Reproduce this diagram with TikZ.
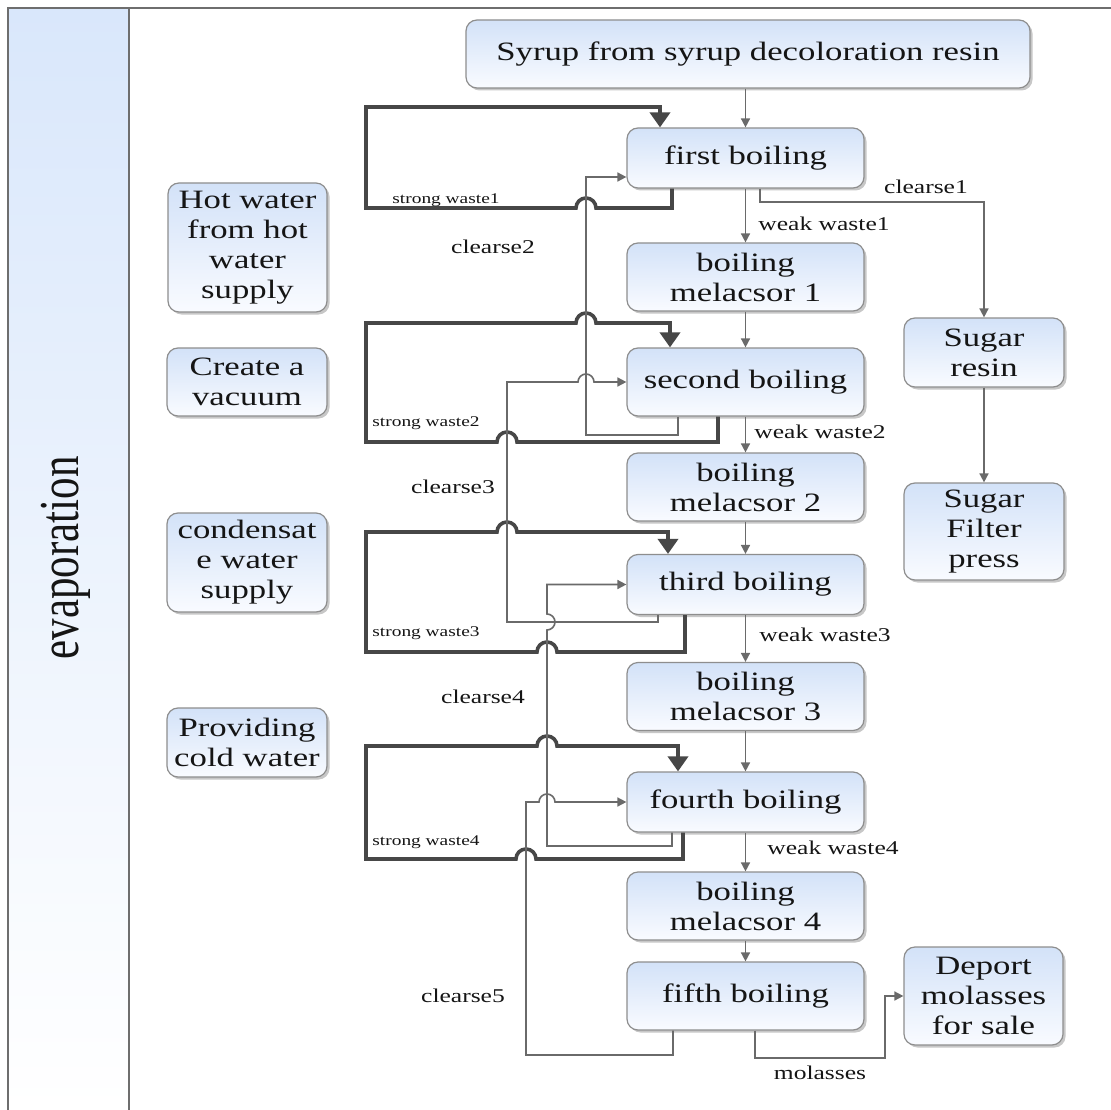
\documentclass[tikz,border=0pt]{standalone}
\usepackage{fontspec}
\setmainfont{Liberation Serif}[FakeStretch=1.31]
\newfontfamily\uprightserif{Liberation Serif}
\usetikzlibrary{arrows.meta,shadows}

\definecolor{boxtop}{HTML}{D3E2F8}
\definecolor{boxbot}{HTML}{F9FBFF}
\definecolor{boxline}{HTML}{8E8E8E}
\definecolor{lanetop}{HTML}{D9E7FB}
\definecolor{laneline}{HTML}{6E6E6E}
\definecolor{flowcol}{HTML}{6A6A6A}
\definecolor{wastecol}{HTML}{474747}
\definecolor{ink}{HTML}{151515}

\newcommand\procfont{\fontsize{26.5}{30}\selectfont}
\newcommand\labfont{\fontsize{19.5}{22}\selectfont}
\newcommand\wastefont{\fontsize{14.8}{17}\selectfont}

\begin{document}
\begin{tikzpicture}[x=1pt,y=1pt,
  proc/.style={draw=boxline, line width=1.2pt, rounded corners=11pt,
    top color=boxtop, bottom color=boxbot,
    drop shadow={shadow xshift=2.5pt, shadow yshift=-2.5pt, fill=black!40, opacity=0.55},
    align=center, inner sep=0pt, text=ink, font=\procfont, minimum width=237pt},
  flowline/.style={draw=flowcol, line width=1.6pt, -{Triangle[length=9pt,width=9pt]}},
  wasteline/.style={draw=wastecol, line width=3.6pt, line join=miter, -{Triangle[length=15pt,width=20pt]}},
  lab/.style={font=\labfont, text=ink, inner sep=0pt},
  wlab/.style={font=\wastefont, text=ink, inner sep=0pt},
]
\useasboundingbox (0,0) rectangle (1111,-1110);
\fill[white] (0,0) rectangle (1111,-1110);

% swimlane
\shade[top color=lanetop, bottom color=white] (8,-8) rectangle (129,-1110);
\draw[laneline, line width=2pt] (8,-1110) -- (8,-8) -- (1111,-8);
\draw[laneline, line width=2pt] (129,-8) -- (129,-1110);
\node[rotate=90, anchor=base, text=ink, inner sep=0pt] (lane) at (78,-558)
  {\scalebox{1}[1.31]{\uprightserif\fontsize{43}{50}\selectfont evaporation}};

% process boxes
\node[proc, minimum width=564pt, minimum height=68pt] (syrup) at (748,-54) {Syrup from syrup decoloration resin};
\node[proc, minimum height=60pt] (b1) at (745.5,-158) {first boiling};
\node[proc, minimum height=68pt] (m1) at (745.5,-277) {boiling\\melacsor 1};
\node[proc, minimum height=68pt] (b2) at (745.5,-382) {second boiling};
\node[proc, minimum height=68pt] (m2) at (745.5,-487) {boiling\\melacsor 2};
\node[proc, minimum height=60pt] (b3) at (745.5,-584.5) {third boiling};
\node[proc, minimum height=68pt] (m3) at (745.5,-696.5) {boiling\\melacsor 3};
\node[proc, minimum height=60pt] (b4) at (745.5,-802) {fourth boiling};
\node[proc, minimum height=68pt] (m4) at (745.5,-906) {boiling\\melacsor 4};
\node[proc, minimum height=68pt] (b5) at (745.5,-996) {fifth boiling};
\node[proc, minimum width=160pt, minimum height=69pt] (resin) at (984,-352.5) {Sugar\\resin};
\node[proc, minimum width=160pt, minimum height=97pt] (press) at (984,-531.5) {Sugar\\Filter\\press};
\node[proc, minimum width=159pt, minimum height=98pt] (sale) at (983.5,-996) {Deport\\molasses\\for sale};
\node[proc, minimum width=159pt, minimum height=129pt] (hot) at (247.5,-247.5) {Hot water\\from hot\\water\\supply};
\node[proc, minimum width=160pt, minimum height=68pt] (vac) at (247,-382) {Create a\\vacuum};
\node[proc, minimum width=160pt, minimum height=99pt] (cond) at (247,-562.5) {condensat\\e water\\supply};
\node[proc, minimum width=160pt, minimum height=69pt] (cold) at (247,-742.5) {Providing\\cold water};

% main line
\draw[flowline] (syrup.south -| b1.north) -- (b1.north);
\draw[flowline] (b1.south) -- (m1.north);
\draw[flowline] (m1.south) -- (b2.north);
\draw[flowline] (b2.south) -- (m2.north);
\draw[flowline] (m2.south) -- (b3.north);
\draw[flowline] (b3.south) -- (m3.north);
\draw[flowline] (m3.south) -- (b4.north);
\draw[flowline] (b4.south) -- (m4.north);
\draw[flowline] (m4.south) -- (b5.north);
\draw[flowline] (resin.south) -- (press.north);

\node[lab] (ww1) at (824,-224) {weak waste1};
\node[lab] (ww2) at (820,-432) {weak waste2};
\node[lab] (ww3) at (825,-635) {weak waste3};
\node[lab] (ww4) at (833,-848) {weak waste4};

% sugar branch
\draw[flowline] ([xshift=14.5pt]b1.south) -- (760,-202) -- (984,-202) -- (resin.north);
\node[lab] (c1) at (926,-187) {clearse1};

% strong waste loops
\draw[wasteline] ([xshift=-73.5pt]b1.south) -- (672,-208) -- (596,-208)
  arc[start angle=0,end angle=180,radius=10] -- (366,-208) -- (366,-107) -- (660,-107)
  -- ([xshift=-85.5pt]b1.north);
\draw[wasteline] ([xshift=-27.5pt]b2.south) -- (718,-442) -- (517,-442)
  arc[start angle=0,end angle=180,radius=10] -- (366,-442) -- (366,-323) -- (576,-323)
  arc[start angle=180,end angle=0,radius=10] -- (670,-323) -- ([xshift=-75.5pt]b2.north);
\draw[wasteline] ([xshift=-60.5pt]b3.south) -- (685,-652) -- (557,-652)
  arc[start angle=0,end angle=180,radius=10] -- (366,-652) -- (366,-532) -- (497,-532)
  arc[start angle=180,end angle=0,radius=10] -- (668,-532) -- ([xshift=-77.5pt]b3.north);
\draw[wasteline] ([xshift=-62.5pt]b4.south) -- (683,-859) -- (536,-859)
  arc[start angle=0,end angle=180,radius=10] -- (366,-859) -- (366,-746) -- (537,-746)
  arc[start angle=180,end angle=0,radius=10] -- (678,-746) -- ([xshift=-67.5pt]b4.north);

\node[wlab] (sw1) at (446,-200) {strong waste1};
\node[wlab] (sw2) at (426,-423) {strong waste2};
\node[wlab] (sw3) at (426,-633) {strong waste3};
\node[wlab] (sw4) at (426,-842) {strong waste4};

% clearse returns
\draw[flowline] ([xshift=-67.5pt]b2.south) -- (678,-435) -- (586,-435) -- (586,-177)
  -- ([yshift=-19pt]b1.west);
\draw[flowline] ([xshift=-87.5pt]b3.south) -- (658,-622) -- (507,-622) -- (507,-382)
  -- (578,-382) arc[start angle=180,end angle=0,radius=8] -- (b2.west);
\draw[flowline] ([xshift=-73.5pt]b4.south) -- (672,-846) -- (547,-846) -- (547,-630)
  arc[start angle=-90,end angle=90,radius=8] -- (547,-584.5) -- (b3.west);
\draw[flowline] ([xshift=-72.5pt]b5.south) -- (673,-1055) -- (526,-1055) -- (526,-802)
  -- (539,-802) arc[start angle=180,end angle=0,radius=8] -- (b4.west);

\node[lab] (c2) at (493,-247) {clearse2};
\node[lab] (c3) at (453,-487) {clearse3};
\node[lab] (c4) at (483,-697) {clearse4};
\node[lab] (c5) at (463,-996) {clearse5};

% molasses out
\draw[flowline] ([xshift=9.5pt]b5.south) -- (755,-1058) -- (885,-1058) -- (885,-996) -- (sale.west);
\node[lab] (mol) at (820,-1073) {molasses};
\end{tikzpicture}
\end{document}
